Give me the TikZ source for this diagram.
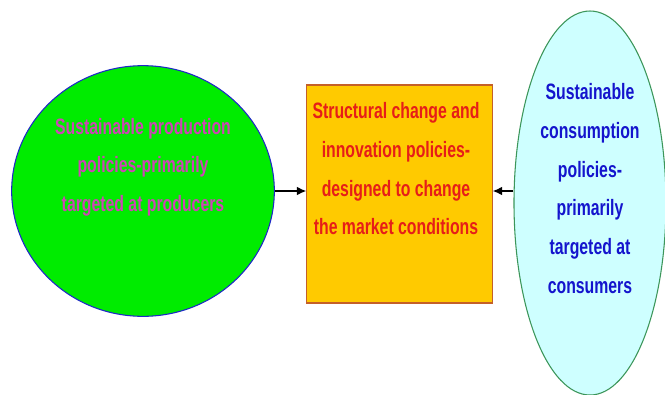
\documentclass[tikz,border=0pt]{standalone}
\usepackage{fontspec}
\setmainfont{Liberation Sans}[FakeStretch=0.71]
\usetikzlibrary{shapes.geometric, arrows.meta}

\definecolor{prodgreen}{RGB}{0,236,0}
\definecolor{prodedge}{RGB}{30,40,200}
\definecolor{prodtext}{RGB}{205,70,180}
\definecolor{structfill}{RGB}{255,202,0}
\definecolor{structedge}{RGB}{196,96,40}
\definecolor{structtext}{RGB}{230,30,24}
\definecolor{consfill}{RGB}{206,255,255}
\definecolor{consedge}{RGB}{60,150,90}
\definecolor{constext}{RGB}{20,20,205}

\tikzset{
  labeltext/.style={align=center, font=\bfseries\fontsize{16.7}{29}\selectfont, inner sep=0pt},
  linkarrow/.style={-{Latex[length=7pt, width=6.5pt]}, line width=1.1pt}
}

\begin{document}
\begin{tikzpicture}[x=0.75pt, y=-0.75pt]
				\useasboundingbox[fill=white] (0,0) rectangle (665,394);

				% 図形を置く
				\node[ellipse, draw=prodedge, fill=prodgreen, line width=0.8pt, inner sep=0pt, minimum width=197pt, minimum height=188pt] (prod) at (143, 191) {};
				\node[rectangle, draw=structedge, fill=structfill, line width=0.8pt, inner sep=0pt, minimum width=139pt, minimum height=163.5pt] (struct) at (399.5, 194) {};
				\node[ellipse, draw=consedge, fill=consfill, line width=0.8pt, inner sep=0pt, minimum width=114pt, minimum height=288pt] (cons) at (590, 203) {};

				% 矢印を引く
				\draw[linkarrow] (prod.east) -- (prod.east -| struct.west);
				\draw[linkarrow] (prod.east -| cons.west) -- (prod.east -| struct.east);

				% 文字を入れる
				\node[labeltext, text=prodtext] (prodlabel) at (143, 167) {Sustainable production\\policies-primarily\\targeted at producers};
				\node[labeltext, text=structtext] (structlabel) at (396, 169) {Structural change and\\innovation policies-\\designed to change\\the market conditions};
				\node[labeltext, text=constext] (conslabel) at (590, 188.5) {Sustainable\\consumption\\policies-\\primarily\\targeted at\\consumers};
			\end{tikzpicture}
\end{document}
